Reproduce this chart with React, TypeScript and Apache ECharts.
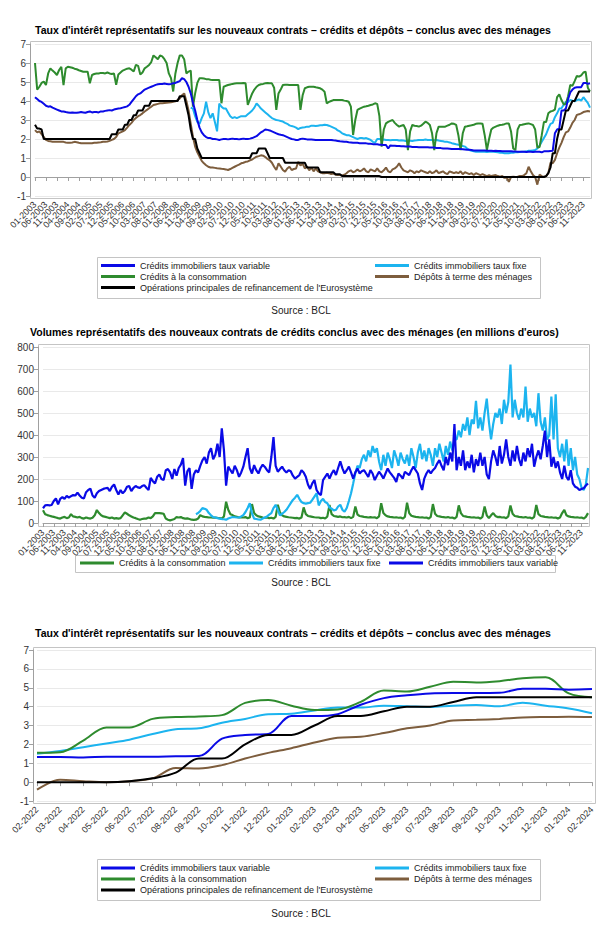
import React, { useEffect, useRef } from 'react';
import * as echarts from 'echarts';

const FONT = '"Liberation Sans", Arial, sans-serif';

const TITLE_RATES = "Taux d'intérêt représentatifs sur les nouveaux contrats – crédits et dépôts – conclus avec des ménages";
const TITLE_VOLUMES = "Volumes représentatifs des nouveaux contrats de crédits conclus avec des ménages (en millions d'euros)";
const SOURCE = 'Source : BCL';

const NAME_VAR = 'Crédits immobiliers taux variable';
const NAME_FIX = 'Crédits immobiliers taux fixe';
const NAME_CONS = 'Crédits à la consommation';
const NAME_DEP = 'Dépôts à terme des ménages';
const NAME_MRO = "Opérations principales de refinancement de l'Eurosystème";

const C_VAR = '#0a0ae6';
const C_FIX = '#1cb4ef';
const C_CONS = '#2e8b2e';
const C_DEP = '#7d5d3d';
const C_MRO = '#000000';

// Monthly categories 01-2003 .. 02-2024
const monthsLong: string[] = [];
for (let y = 2003; y <= 2024; y++) {
  for (let m = 1; m <= 12; m++) {
    if (y === 2024 && m > 2) break;
    monthsLong.push(`${String(m).padStart(2, '0')}-${y}`);
  }
}

const monthsShort = [
  '02-2022', '03-2022', '04-2022', '05-2022', '06-2022', '07-2022', '08-2022', '09-2022', '10-2022',
  '11-2022', '12-2022', '01-2023', '02-2023', '03-2023', '04-2023', '05-2023', '06-2023', '07-2023',
  '08-2023', '09-2023', '10-2023', '11-2023', '12-2023', '01-2024', '02-2024',
];

const rateTicks = [-1, 0, 1, 2, 3, 4, 5, 6, 7];
const volumeTicks = [0, 100, 200, 300, 400, 500, 600, 700, 800];

// ---- Rates (%), monthly 01-2003 .. 02-2024 ----
const rateVar = [
  4.2, 4.1, 4.0, 3.95, 3.85, 3.75, 3.7, 3.72, 3.65, 3.6, 3.55, 3.5,
  3.45, 3.45, 3.42, 3.4, 3.38, 3.4, 3.38, 3.38, 3.4, 3.42, 3.4, 3.38,
  3.42, 3.45, 3.4, 3.42, 3.42, 3.4, 3.45, 3.45, 3.48, 3.5, 3.52, 3.5,
  3.55, 3.58, 3.6, 3.62, 3.65, 3.68, 3.72, 3.8, 3.95, 4.1, 4.25, 4.35,
  4.4, 4.5, 4.6, 4.65, 4.7, 4.75, 4.8, 4.85, 4.88, 4.9, 4.9, 4.92,
  4.9, 4.88, 4.9, 4.93, 4.95, 5.0, 5.05, 5.2, 5.15, 5.0, 4.75, 4.4,
  3.9, 3.5, 3.0, 2.6, 2.35, 2.2, 2.1, 2.05, 2.05, 2.0, 2.0, 1.98,
  1.95, 1.98, 2.0, 2.0, 1.98, 2.0, 2.02, 2.0, 2.0, 1.98, 2.0, 2.02,
  2.0, 2.0, 2.02, 2.05, 2.1, 2.15, 2.25, 2.35, 2.42, 2.5, 2.48, 2.45,
  2.4, 2.35, 2.3, 2.25, 2.22, 2.2, 2.15, 2.1, 2.05, 2.0, 1.98, 1.95,
  1.95, 2.0, 2.02, 2.0, 1.98, 1.97, 1.97, 1.96, 1.95, 1.95, 1.95, 1.95,
  1.95, 1.95, 1.95, 1.95, 1.93, 1.92, 1.9, 1.88, 1.87, 1.85, 1.85, 1.83,
  1.82, 1.8, 1.8, 1.8, 1.78, 1.78, 1.77, 1.77, 1.75, 1.75, 1.73, 1.72,
  1.72, 1.7, 1.7, 1.68, 1.68, 1.5, 1.66, 1.65, 1.65, 1.63, 1.63, 1.62,
  1.62, 1.6, 1.6, 1.6, 1.58, 1.58, 1.58, 1.57, 1.57, 1.56, 1.56, 1.56,
  1.55, 1.55, 1.55, 1.53, 1.52, 1.52, 1.5, 1.5, 1.5, 1.49, 1.48, 1.48,
  1.48, 1.47, 1.47, 1.46, 1.45, 1.44, 1.43, 1.42, 1.4, 1.4, 1.4, 1.4,
  1.4, 1.39, 1.38, 1.38, 1.38, 1.37, 1.38, 1.37, 1.37, 1.36, 1.36, 1.35,
  1.35, 1.35, 1.34, 1.34, 1.33, 1.33, 1.33, 1.33, 1.32, 1.33, 1.33, 1.32,
  1.33, 1.33, 1.33, 1.3, 1.35, 1.35, 1.35, 1.37, 1.38, 2.3, 2.5, 2.55,
  3.5, 3.5, 3.6, 4.1, 4.45, 4.6, 4.7, 4.72, 4.72, 4.73, 4.95, 4.95,
  4.9, 4.93,
];

// starts 12-2008
const rateFix = [
  3.65,
  3.6, 3.2, 2.9, 2.8, 3.1, 3.35, 3.96, 3.4, 3.1, 3.35, 2.9, 2.4,
  3.87, 3.7, 3.6, 3.6, 3.4, 3.2, 3.1, 3.15, 3.1, 3.15, 3.2, 3.2,
  3.2, 3.3, 3.4, 3.5, 3.65, 3.87, 3.75, 3.6, 3.5, 3.4, 3.3, 3.2,
  3.1, 3.05, 3.0, 2.98, 2.95, 2.92, 2.85, 2.8, 2.72, 2.68, 2.65, 2.6,
  2.52, 2.58, 2.6, 2.62, 2.65, 2.65, 2.7, 2.7, 2.68, 2.7, 2.72, 2.72,
  2.75, 2.74, 2.7, 2.65, 2.6, 2.55, 2.45, 2.4, 2.3, 2.25, 2.2, 2.2,
  2.15, 2.1, 2.05, 2.0, 2.05, 2.05, 2.03, 2.05, 2.0, 1.95, 1.85, 1.8,
  2.0, 2.0, 1.95, 1.97, 1.95, 1.95, 1.93, 1.95, 1.95, 1.95, 1.92, 1.93,
  1.92, 1.9, 1.92, 1.91, 1.9, 1.92, 1.93, 1.95, 1.95, 1.95, 1.97, 1.95,
  1.95, 1.95, 1.93, 1.95, 1.92, 1.9, 1.88, 1.85, 1.85, 1.82, 1.78, 1.75,
  1.72, 1.7, 1.68, 1.63, 1.6, 1.5, 1.42, 1.38, 1.35, 1.33, 1.33, 1.33,
  1.33, 1.33, 1.32, 1.33, 1.33, 1.33, 1.32, 1.3, 1.28, 1.27, 1.25, 1.25,
  1.25, 1.27, 1.28, 1.3, 1.3, 1.32, 1.33, 1.33, 1.35, 1.38, 1.38, 1.4,
  1.42, 1.5, 1.65, 1.85, 2.05, 2.25, 2.55, 2.8, 2.85, 3.15, 3.35, 3.6,
  3.62, 3.8, 3.95, 3.95, 4.05, 4.02, 3.98, 4.05, 4.08, 4.02, 4.2, 4.05,
  3.9, 3.65,
];
const rateFixStart = 71; // index of 12-2008

const rateCons = [
  6.0, 4.6, 4.75, 4.95, 5.02, 4.84, 5.45, 5.72, 5.6, 5.5, 5.37, 5.63,
  5.8, 4.84, 5.72, 5.8, 5.78, 5.75, 5.7, 5.67, 5.62, 5.58, 5.54, 5.54,
  5.54, 4.93, 5.37, 5.42, 5.45, 5.45, 5.48, 5.47, 5.45, 5.5, 5.45, 5.42,
  5.45, 4.85, 5.4, 5.5, 5.6, 5.65, 5.7, 5.72, 5.65, 5.55, 5.9, 5.85,
  5.4, 5.5, 5.72, 5.8, 5.9, 6.05, 6.4, 6.3, 6.2, 6.4, 6.35, 6.2,
  6.0, 5.45, 5.2, 4.5, 5.45, 6.0, 6.4, 6.4, 6.2, 5.45, 5.55, 5.6,
  3.7, 4.4, 4.95, 5.2, 5.2, 5.18, 5.15, 5.15, 5.12, 5.1, 5.1, 5.1,
  5.1, 3.88, 4.75, 4.8, 4.84, 4.87, 4.9, 4.92, 4.93, 4.93, 4.93, 4.95,
  4.93, 3.79, 4.1, 4.4, 4.6, 4.75, 4.84, 4.88, 4.9, 4.93, 4.95, 4.93,
  4.93, 4.7, 3.53, 4.4, 4.6, 4.84, 4.85, 4.85, 4.84, 4.84, 4.84, 4.84,
  4.84, 3.53, 4.3, 4.67, 4.72, 4.75, 4.75, 4.75, 4.72, 4.7, 4.67, 4.6,
  4.49, 3.88, 3.95, 4.0, 4.05, 4.05, 4.05, 4.05, 4.05, 4.02, 4.0, 3.96,
  3.7, 2.21, 3.0, 3.53, 3.6, 3.65, 3.7, 3.72, 3.75, 3.79, 3.82, 3.88,
  3.85, 3.2, 1.6, 2.5, 2.82, 2.9, 2.95, 3.0, 2.85, 2.74, 2.65, 2.7,
  2.74, 2.5, 1.42, 2.4, 2.74, 2.7, 2.68, 2.65, 2.7, 2.8, 2.91, 2.85,
  2.74, 2.3, 1.42, 2.3, 2.65, 2.65, 2.65, 2.65, 2.7, 2.75, 2.82, 2.8,
  2.74, 2.2, 1.42, 2.3, 2.65, 2.67, 2.7, 2.72, 2.75, 2.8, 2.82, 2.82,
  2.8, 2.2, 1.42, 2.0, 2.5, 2.6, 2.65, 2.7, 2.74, 2.75, 2.78, 2.82,
  2.82, 2.4, 1.5, 1.42, 2.5, 2.74, 2.75, 2.78, 2.8, 2.82, 2.78, 2.74,
  2.5, 1.55, 1.58, 2.2, 2.9, 2.9, 3.35, 3.45, 3.48, 3.55, 4.2, 4.35,
  4.05, 3.82, 3.85, 4.25, 4.85, 4.8, 5.05, 5.32, 5.28, 5.35, 5.5, 5.55,
  4.7, 4.5,
];

const rateDep = [
  2.47, 2.35, 2.4, 2.25, 2.1, 1.95, 1.9, 1.88, 1.86, 1.85, 1.86, 1.85,
  1.86, 1.85, 1.82, 1.8, 1.8, 1.82, 1.85, 1.83, 1.8, 1.78, 1.77, 1.78,
  1.77, 1.77, 1.78, 1.8, 1.8, 1.82, 1.83, 1.85, 1.85, 1.87, 1.9, 1.95,
  2.0, 2.1, 2.3, 2.35, 2.4, 2.47, 2.6, 2.74, 2.85, 3.0, 3.1, 3.2,
  3.26, 3.35, 3.45, 3.53, 3.62, 3.7, 3.79, 3.82, 3.85, 3.88, 3.88, 3.9,
  3.91, 3.92, 3.93, 3.96, 3.98, 4.05, 4.14, 4.3, 4.4, 4.0, 3.5, 2.8,
  2.12, 1.6, 1.3, 1.07, 0.85, 0.72, 0.62, 0.54, 0.5, 0.5, 0.48, 0.46,
  0.45, 0.43, 0.42, 0.4, 0.37, 0.42, 0.48, 0.54, 0.6, 0.65, 0.72, 0.75,
  0.8, 0.82, 0.88, 0.92, 1.0, 1.07, 1.1, 1.14, 1.12, 1.05, 0.95, 0.88,
  0.75, 0.54, 0.37, 0.72, 0.55, 0.37, 0.28, 0.45, 0.54, 0.37, 0.42, 0.45,
  0.8, 0.6, 0.7, 0.45, 0.55, 0.35, 0.5, 0.3, 0.45, 0.3, 0.25, 0.2,
  0.2, 0.22, 0.2, 0.15, 0.18, 0.12, 0.1, 0.1, 0.08, 0.12, 0.2, 0.3,
  0.35, 0.25, 0.3, 0.4, 0.3, 0.35, 0.45, 0.3, 0.25, 0.4, 0.35, 0.3,
  0.45, 0.3, 0.25, 0.35, 0.5, 0.3, 0.25, 0.4, 0.45, 0.55, 0.72, 0.5,
  0.35, 0.3, 0.25, 0.35, 0.3, 0.2, 0.3, 0.25, 0.35, 0.3, 0.25, 0.2,
  0.3, 0.2, 0.25, 0.35, 0.2, 0.25, 0.3, 0.2, 0.15, 0.3, 0.25, 0.2,
  0.25, 0.2, 0.3, 0.15, 0.25, 0.2, 0.15, 0.2, 0.1, 0.2, 0.15, 0.1,
  0.15, 0.1, 0.05, 0.1, 0.05, 0.08, 0.1, 0.05, 0.02, 0.05, -0.05, 0.0,
  -0.25, 0.0, 0.02, 0.0, 0.02, 0.05, 0.05, 0.1, 0.2, 0.54, 0.3, 0.1,
  0.0, -0.4, 0.12, 0.05, 0.0, 0.05, 0.2, 0.75, 0.72, 0.9, 1.25, 1.55,
  1.8, 2.1, 2.35, 2.4, 2.6, 2.85, 3.0, 3.27, 3.3, 3.35, 3.42, 3.45,
  3.47, 3.45,
];

const rateMro = [
  2.75, 2.55, 2.55, 2.5, 2.0, 2.0, 2.0, 2.0, 2.0, 2.0, 2.0, 2.0,
  2.0, 2.0, 2.0, 2.0, 2.0, 2.0, 2.0, 2.0, 2.0, 2.0, 2.0, 2.0,
  2.0, 2.0, 2.0, 2.0, 2.0, 2.0, 2.0, 2.0, 2.0, 2.0, 2.0, 2.25,
  2.25, 2.25, 2.5, 2.5, 2.5, 2.75, 2.75, 3.0, 3.0, 3.25, 3.25, 3.5,
  3.5, 3.5, 3.75, 3.75, 3.75, 4.0, 4.0, 4.0, 4.0, 4.0, 4.0, 4.0,
  4.0, 4.0, 4.0, 4.0, 4.0, 4.0, 4.25, 4.25, 4.25, 3.75, 3.25, 2.5,
  2.0, 2.0, 1.5, 1.25, 1.0, 1.0, 1.0, 1.0, 1.0, 1.0, 1.0, 1.0,
  1.0, 1.0, 1.0, 1.0, 1.0, 1.0, 1.0, 1.0, 1.0, 1.0, 1.0, 1.0,
  1.0, 1.0, 1.0, 1.25, 1.25, 1.25, 1.5, 1.5, 1.5, 1.5, 1.25, 1.0,
  1.0, 1.0, 1.0, 1.0, 1.0, 1.0, 0.75, 0.75, 0.75, 0.75, 0.75, 0.75,
  0.75, 0.75, 0.75, 0.75, 0.5, 0.5, 0.5, 0.5, 0.5, 0.5, 0.25, 0.25,
  0.25, 0.25, 0.25, 0.25, 0.25, 0.15, 0.15, 0.15, 0.05, 0.05, 0.05, 0.05,
  0.05, 0.05, 0.05, 0.05, 0.05, 0.05, 0.05, 0.05, 0.05, 0.05, 0.05, 0.05,
  0.05, 0.05, 0, 0, 0, 0, 0, 0, 0, 0, 0, 0,
  0, 0, 0, 0, 0, 0, 0, 0, 0, 0, 0, 0,
  0, 0, 0, 0, 0, 0, 0, 0, 0, 0, 0, 0,
  0, 0, 0, 0, 0, 0, 0, 0, 0, 0, 0, 0,
  0, 0, 0, 0, 0, 0, 0, 0, 0, 0, 0, 0,
  0, 0, 0, 0, 0, 0, 0, 0, 0, 0, 0, 0,
  0, 0, 0, 0, 0, 0.05, 0.2, 0.5, 1.25, 1.25, 2.0, 2.5,
  2.5, 3.0, 3.5, 3.5, 3.75, 4.0, 4.0, 4.25, 4.5, 4.5, 4.5, 4.5,
  4.5, 4.5,
];

// ---- Volumes (millions EUR), monthly 01-2003 .. 02-2024 ----
const volCons = [
  58, 40, 36, 33, 30, 28, 25, 22, 20, 25, 28, 22,
  25, 40, 30, 28, 25, 28, 22, 20, 25, 22, 20, 24,
  35, 59, 45, 35, 30, 28, 25, 22, 25, 20, 22, 20,
  22, 35, 48, 42, 35, 30, 25, 22, 18, 15, 18, 20,
  20, 25, 22, 30, 45, 45, 45, 44, 42, 20, 15, 12,
  15, 18, 27, 25, 27, 22, 20, 21, 18, 15, 14, 15,
  20, 36, 30, 28, 27, 25, 25, 24, 25, 23, 22, 20,
  30, 97, 60, 40, 36, 30, 28, 25, 27, 25, 27, 22,
  25, 86, 45, 35, 30, 28, 25, 24, 25, 22, 24, 20,
  28, 83, 48, 35, 30, 28, 26, 25, 24, 22, 23, 20,
  25, 71, 40, 32, 30, 28, 26, 25, 25, 22, 24, 20,
  30, 82, 40, 32, 30, 28, 30, 26, 27, 25, 28, 22,
  28, 75, 38, 32, 30, 28, 27, 25, 27, 25, 26, 22,
  30, 90, 45, 35, 30, 28, 27, 25, 26, 24, 25, 20,
  28, 92, 45, 33, 30, 28, 27, 25, 26, 24, 25, 20,
  28, 86, 42, 32, 30, 28, 27, 25, 27, 24, 25, 20,
  28, 80, 45, 32, 30, 28, 27, 25, 26, 24, 25, 20,
  28, 75, 35, 22, 35, 45, 32, 27, 28, 25, 26, 22,
  30, 80, 42, 32, 30, 28, 27, 25, 27, 24, 25, 20,
  28, 82, 40, 32, 30, 28, 27, 25, 26, 24, 25, 20,
  25, 45, 60, 35, 30, 28, 27, 25, 26, 24, 25, 20,
  28, 45,
];

// starts 12-2008
const volFix = [
  40,
  45, 55, 68, 65, 60, 45, 35, 27, 25, 22, 20, 18,
  17, 15, 20, 24, 27, 26, 25, 25, 30, 36, 50, 68,
  90, 45, 20, 18, 16, 15, 20, 25, 30, 38, 45, 68,
  83, 60, 35, 42, 50, 60, 75, 90, 105, 115, 128, 110,
  95, 90, 88, 90, 92, 105, 120, 135, 80, 100, 110, 95,
  90, 70, 65, 57, 60, 75, 83, 60, 52, 68, 100, 135,
  180, 227, 260, 250, 290, 310, 280, 330, 300, 350, 320, 340,
  280, 240, 310, 260, 320, 290, 250, 330, 300, 260, 320, 290,
  270, 310, 260, 340, 300, 250, 320, 360, 290, 330, 280, 340,
  310, 260, 340, 300, 360, 320, 280, 350, 310, 370, 330, 380,
  380, 420, 390, 450, 420, 480, 400, 470, 450, 555, 430, 480,
  420, 500, 565, 460, 380, 450, 500, 480, 520, 450, 560, 500,
  550, 720, 480, 560, 500, 470, 520, 480, 620, 460, 520, 480,
  500, 440, 590, 460, 420, 480, 380, 400, 575, 380, 585, 340,
  300, 360, 280, 380, 260, 340, 240, 300, 220, 200, 160, 150,
  175, 250,
];
const volFixStart = 71;

const volVar = [
  67, 80, 82, 80, 82, 100, 112, 85, 110, 118, 110, 123,
  115, 122, 127, 125, 138, 125, 115, 112, 140, 150, 156, 125,
  115, 135, 145, 150, 155, 158, 160, 145, 165, 175, 150, 130,
  150, 135, 145, 165, 168, 145, 160, 168, 162, 160, 168, 172,
  160, 150, 205, 190, 180, 210, 220, 200, 195, 240, 245, 230,
  200, 245, 215, 250, 265, 295, 170, 235, 250, 155, 220, 240,
  230, 260, 285, 300, 270, 320, 340, 290, 310, 360, 300, 430,
  330, 170, 256, 240, 225, 260, 240, 210, 230, 256, 300, 340,
  250, 225, 263, 240, 225, 250, 265, 255, 240, 230, 300, 390,
  260, 233, 245, 256, 240, 230, 240, 235, 215, 202, 210, 218,
  240, 230, 210, 175, 155, 180, 195, 150, 135, 127, 195, 210,
  225, 202, 225, 240, 218, 250, 280, 248, 225, 240, 256, 230,
  202, 230, 248, 225, 235, 240, 225, 210, 240, 225, 195, 215,
  233, 220, 202, 225, 248, 230, 218, 205, 187, 225, 215, 202,
  233, 225, 218, 240, 256, 240, 225, 180, 150, 202, 225, 240,
  225, 240, 250, 270, 286, 260, 240, 300, 263, 320, 280, 450,
  240, 300, 260, 330, 240, 280, 250, 310, 230, 290, 260, 320,
  260, 300, 220, 200, 280, 330, 300, 260, 350, 270, 310, 380,
  300, 260, 330, 280, 350, 290, 260, 320, 280, 340, 300, 360,
  256, 300, 330, 290, 350, 420, 300, 380, 256, 300, 250, 280,
  230, 200, 260, 210, 195, 240, 180, 165, 160, 150, 155, 158,
  170, 180,
];

// Third chart: 02-2022 .. 02-2024 (same monthly series, last 25 months)
const shortFrom = 229;

const padStart = (arr: number[], start: number) => [...new Array(start).fill(null), ...arr];

const AXIS_GREY = '#a0a0a0';
const FRAME_GREY = '#c4c4c4';
const GRID_GREY = '#e9e9e9';
const LABEL = '#333333';

export default function App() {
  const ref = useRef<HTMLDivElement>(null);

  useEffect(() => {
    if (!ref.current) return;
    const chart = echarts.init(ref.current, undefined, { renderer: 'svg' });

    const grids = [
      { left: 35, top: 44, width: 555, height: 152 },
      { left: 43, top: 347, width: 545, height: 176 },
      { left: 37, top: 650, width: 555, height: 151 },
    ];

    const yAxisBase = (gi: number, min: number, max: number, interval: number) => ({
      type: 'value',
      gridIndex: gi,
      min,
      max,
      interval,
      offset: gi === 2 ? 4 : 5,
      axisLine: { show: true, lineStyle: { color: AXIS_GREY } },
      axisTick: { show: true, length: 4, lineStyle: { color: AXIS_GREY } },
      axisLabel: { fontSize: 10, color: LABEL, fontFamily: FONT, margin: 4 },
      splitLine: { show: true, lineStyle: { color: GRID_GREY, width: 1 } },
    });

    // All labels are laid out (interval 0, so none is auto-hidden); only every `step`-th one has text.
    const xAxisBase = (gi: number, data: string[], step: number, offset: number) => ({
      type: 'category',
      gridIndex: gi,
      data,
      boundaryGap: false,
      offset,
      axisLine: { show: true, lineStyle: { color: AXIS_GREY } },
      axisTick: { show: true, interval: (i: number) => i % step === 0, length: 4, lineStyle: { color: AXIS_GREY } },
      axisLabel: {
        interval: 0,
        formatter: (value: string, index: number) => (index % step === 0 ? value : ''),
        hideOverlap: false,
        rotate: 45,
        fontSize: 9,
        color: LABEL,
        fontFamily: FONT,
        margin: 4,
      },
      splitLine: { show: false },
    });

    const line = (name: string, data: (number | null)[], color: string, gi: number, width: number, smooth: number | boolean = false) => ({
      type: 'line',
      name,
      data,
      xAxisIndex: gi,
      yAxisIndex: gi,
      showSymbol: false,
      symbol: 'none',
      smooth,
      color,
      itemStyle: { color },
      lineStyle: { color, width },
      silent: true,
    });

    const legendText = { fontSize: 9, color: '#222', fontFamily: FONT };
    const legendBase = {
      icon: 'rect',
      itemWidth: 34,
      itemHeight: 3,
      selectedMode: false,
      padding: 0,
      textStyle: legendText,
    };

    const titleStyle = { fontSize: 10.5, fontWeight: 'bold', color: '#000', fontFamily: FONT };

    const option: any = {
      animation: false,
      backgroundColor: '#ffffff',
      title: [
        { text: TITLE_RATES, left: 35, top: 24, padding: 0, textStyle: titleStyle },
        { text: TITLE_VOLUMES, left: 30, top: 326, padding: 0, textStyle: titleStyle },
        { text: TITLE_RATES, left: 35, top: 627, padding: 0, textStyle: titleStyle },
      ],
      grid: grids,
      xAxis: [
        xAxisBase(0, monthsLong, 5, 3),
        xAxisBase(1, monthsLong, 5, 4),
        xAxisBase(2, monthsShort, 1, 3),
      ],
      yAxis: [
        yAxisBase(0, rateTicks[0], rateTicks[rateTicks.length - 1], 1),
        yAxisBase(1, volumeTicks[0], volumeTicks[volumeTicks.length - 1], 100),
        yAxisBase(2, rateTicks[0], rateTicks[rateTicks.length - 1], 1),
      ],
      legend: [
        { ...legendBase, orient: 'vertical', left: 101, top: 261, itemGap: 2, data: [NAME_VAR, NAME_CONS, NAME_MRO] },
        { ...legendBase, orient: 'vertical', left: 375, top: 261, itemGap: 2, data: [NAME_FIX, NAME_DEP] },
        { ...legendBase, orient: 'horizontal', left: 80, top: 558.5, data: [NAME_CONS] },
        { ...legendBase, orient: 'horizontal', left: 229, top: 558.5, data: [NAME_FIX] },
        { ...legendBase, orient: 'horizontal', left: 389, top: 558.5, data: [NAME_VAR] },
        { ...legendBase, orient: 'vertical', left: 101, top: 863.5, itemGap: 2, data: [NAME_VAR, NAME_CONS, NAME_MRO] },
        { ...legendBase, orient: 'vertical', left: 375, top: 863.5, itemGap: 2, data: [NAME_FIX, NAME_DEP] },
      ],
      graphic: [
        { type: 'rect', silent: true, z: 0, shape: { x: 30.5, y: 41.5, width: 561, height: 157 }, style: { fill: 'none', stroke: FRAME_GREY, lineWidth: 1 } },
        { type: 'rect', silent: true, z: 0, shape: { x: 38.5, y: 344.5, width: 551, height: 182 }, style: { fill: 'none', stroke: FRAME_GREY, lineWidth: 1 } },
        { type: 'rect', silent: true, z: 0, shape: { x: 33.5, y: 647.5, width: 562, height: 156 }, style: { fill: 'none', stroke: FRAME_GREY, lineWidth: 1 } },
        { type: 'rect', silent: true, z: 0, shape: { x: 97.5, y: 257.5, width: 443, height: 41 }, style: { fill: 'none', stroke: FRAME_GREY, lineWidth: 1 } },
        { type: 'rect', silent: true, z: 0, shape: { x: 75.5, y: 555.5, width: 480, height: 17 }, style: { fill: 'none', stroke: FRAME_GREY, lineWidth: 1 } },
        { type: 'rect', silent: true, z: 0, shape: { x: 97.5, y: 859.5, width: 443, height: 41 }, style: { fill: 'none', stroke: FRAME_GREY, lineWidth: 1 } },
        { type: 'text', silent: true, x: 301, y: 310, style: { text: SOURCE, fontSize: 10, fill: '#222', fontFamily: FONT, textAlign: 'center', textVerticalAlign: 'middle' } },
        { type: 'text', silent: true, x: 301, y: 582, style: { text: SOURCE, fontSize: 10, fill: '#222', fontFamily: FONT, textAlign: 'center', textVerticalAlign: 'middle' } },
        { type: 'text', silent: true, x: 301, y: 913, style: { text: SOURCE, fontSize: 10, fill: '#222', fontFamily: FONT, textAlign: 'center', textVerticalAlign: 'middle' } },
      ],
      series: [
        line(NAME_DEP, rateDep, C_DEP, 0, 2),
        line(NAME_FIX, padStart(rateFix, rateFixStart), C_FIX, 0, 2),
        line(NAME_CONS, rateCons, C_CONS, 0, 2),
        line(NAME_VAR, rateVar, C_VAR, 0, 2),
        line(NAME_MRO, rateMro, C_MRO, 0, 2),

        line(NAME_CONS, volCons, C_CONS, 1, 2.2),
        line(NAME_FIX, padStart(volFix, volFixStart), C_FIX, 1, 2.2),
        line(NAME_VAR, volVar, C_VAR, 1, 2.2),

        line(NAME_DEP, rateDep.slice(shortFrom), C_DEP, 2, 2, 0.35),
        line(NAME_FIX, rateFix.slice(shortFrom - rateFixStart), C_FIX, 2, 2, 0.35),
        line(NAME_CONS, rateCons.slice(shortFrom), C_CONS, 2, 2, 0.35),
        line(NAME_VAR, rateVar.slice(shortFrom), C_VAR, 2, 2, 0.35),
        line(NAME_MRO, rateMro.slice(shortFrom), C_MRO, 2, 2, 0.35),
      ],
    };

    chart.setOption(option);
    return () => chart.dispose();
  }, []);

  return (
    <div
      ref={ref}
      style={{ position: 'absolute', left: 0, top: 0, width: 612, height: 933, background: '#fff' }}
    />
  );
}
